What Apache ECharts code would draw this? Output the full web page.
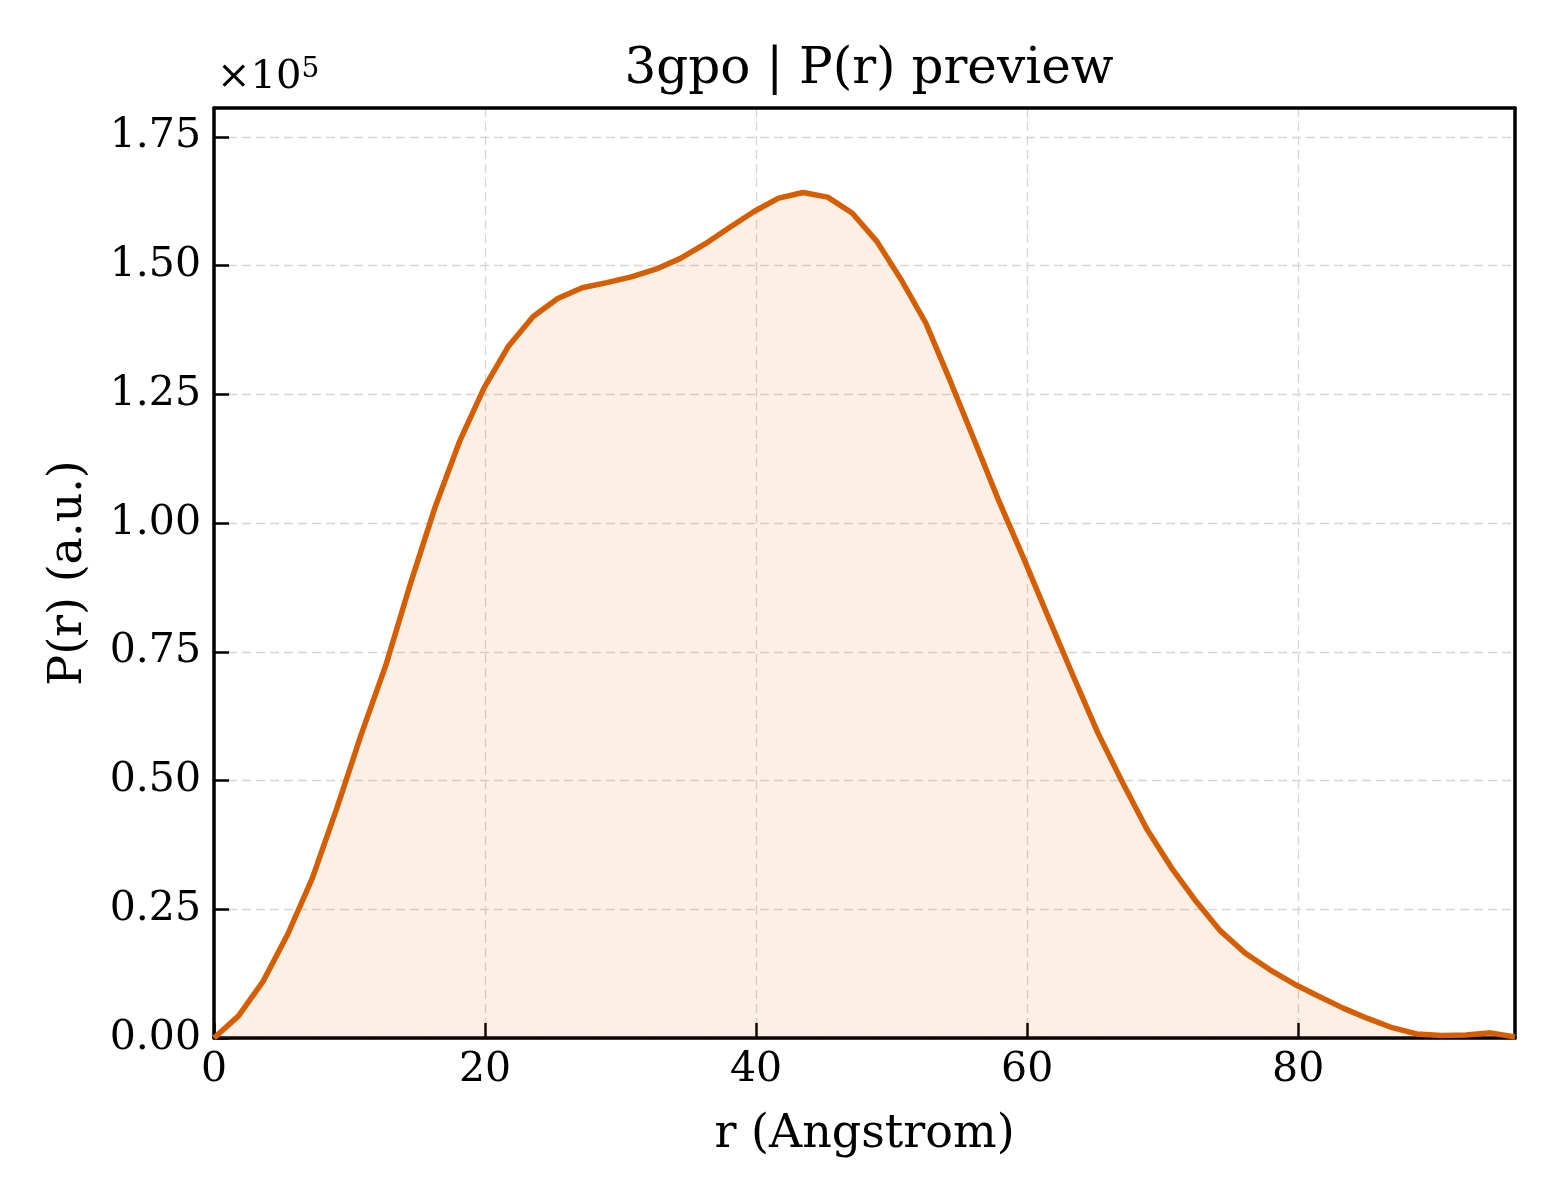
<!DOCTYPE html>
<html>
<head>
<meta charset="utf-8">
<title>3gpo P(r) preview</title>
<script src="https://cdn.jsdelivr.net/npm/echarts@6/dist/echarts.min.js"></script>
<style>
  html, body { margin: 0; padding: 0; background: #fff; }
  #chart { width: 1560px; height: 1200px; }
</style>
</head>
<body>
<div id="chart"></div>
<script>
// r in Angstrom
var rValues = [0, 1.81, 3.62, 5.43, 7.25, 9.06, 10.87, 12.68, 14.49, 16.30, 18.11, 19.92,
  21.74, 23.55, 25.36, 27.17, 28.98, 30.79, 32.60, 34.42, 36.23, 38.04, 39.85, 41.66,
  43.47, 45.28, 47.09, 48.91, 50.72, 52.53, 54.34, 56.15, 57.96, 59.77, 61.58, 63.40,
  65.21, 67.02, 68.83, 70.64, 72.45, 74.26, 76.08, 77.89, 79.70, 81.51, 83.32, 85.13,
  86.94, 88.75, 90.57, 92.38, 94.19, 96.00];
// P(r), in units of 1e5
var prValues = [0, 0.043, 0.110, 0.201, 0.310, 0.446, 0.590, 0.724, 0.882, 1.030, 1.158, 1.262,
  1.344, 1.401, 1.436, 1.457, 1.467, 1.478, 1.493, 1.514, 1.542, 1.574, 1.605, 1.631,
  1.642, 1.633, 1.602, 1.547, 1.472, 1.388, 1.275, 1.158, 1.040, 0.930, 0.816, 0.703,
  0.593, 0.497, 0.406, 0.331, 0.266, 0.208, 0.165, 0.133, 0.105, 0.081, 0.058, 0.038,
  0.020, 0.008, 0.005, 0.006, 0.010, 0.002];
var xTicks = [0, 20, 40, 60, 80];
var yTicks = [0, 0.25, 0.5, 0.75, 1.0, 1.25, 1.5, 1.75];

var font = 'DejaVu Serif';
var lineColor = '#D55E00';

var chart = echarts.init(document.getElementById('chart'));

var pts = rValues.map(function (r, i) { return [r, prValues[i]]; });

var axisCommon = {
  axisLine: { show: true, onZero: false, lineStyle: { color: '#000', width: 3.5 } },
  axisTick: { show: true, inside: true, length: 15, lineStyle: { color: '#000', width: 2.5 } },
  splitLine: { show: true, lineStyle: { color: '#d6d6d6', width: 1.3, type: [9, 5] } },
  nameTextStyle: { fontFamily: font, fontSize: 46, color: '#000' }
};
// plain frame lines for top and right sides
var frameAxis = {
  axisLine: { show: true, onZero: false, lineStyle: { color: '#000', width: 3.5 } },
  axisTick: { show: false }, axisLabel: { show: false }, splitLine: { show: false }
};

chart.setOption({
  animation: false,
  backgroundColor: '#fff',
  title: {
    text: '3gpo | P(r) preview',
    left: 864, top: 40, textAlign: 'center',
    textStyle: { fontFamily: font, fontSize: 50, fontWeight: 'normal', color: '#000' }
  },
  grid: { left: 214, right: 45, top: 108, bottom: 162 },
  xAxis: [Object.assign({}, axisCommon, {
    type: 'value', min: 0, max: 96, interval: 20,
    name: 'r (Angstrom)', nameLocation: 'middle', nameGap: 74,
    axisLabel: {
      fontFamily: font, fontSize: 41, color: '#000', margin: 12, showMaxLabel: false,
      formatter: function (v) { return xTicks.indexOf(v) >= 0 ? String(v) : ''; }
    }
  }), Object.assign({}, frameAxis, { type: 'value', position: 'top', min: 0, max: 96 })],
  yAxis: [Object.assign({}, axisCommon, {
    type: 'value', min: 0, max: 1.806, interval: 0.25,
    name: 'P(r) (a.u.)', nameLocation: 'middle', nameGap: 122, nameRotate: 90,
    axisLabel: {
      fontFamily: font, fontSize: 41, color: '#000', margin: 13, showMaxLabel: false,
      formatter: function (v) { return yTicks.indexOf(+v.toFixed(2)) >= 0 ? v.toFixed(2) : ''; }
    }
  }), Object.assign({}, frameAxis, { type: 'value', position: 'right', min: 0, max: 1.806 })],
  graphic: [{
    type: 'text', left: 217, top: 56,
    style: {
      text: '×10{s|5}', fontFamily: font, fontSize: 40, fill: '#000',
      rich: { s: { fontFamily: font, fontSize: 28, verticalAlign: 'top', padding: [0, 0, 16, 0] } }
    }
  }],
  series: [{
    type: 'line',
    data: pts,
    showSymbol: false,
    clip: true,
    lineStyle: { color: lineColor, width: 5.5 },
    areaStyle: { color: 'rgba(213,94,0,0.14)' },
    z: 3
  }]
});
</script>
</body>
</html>
